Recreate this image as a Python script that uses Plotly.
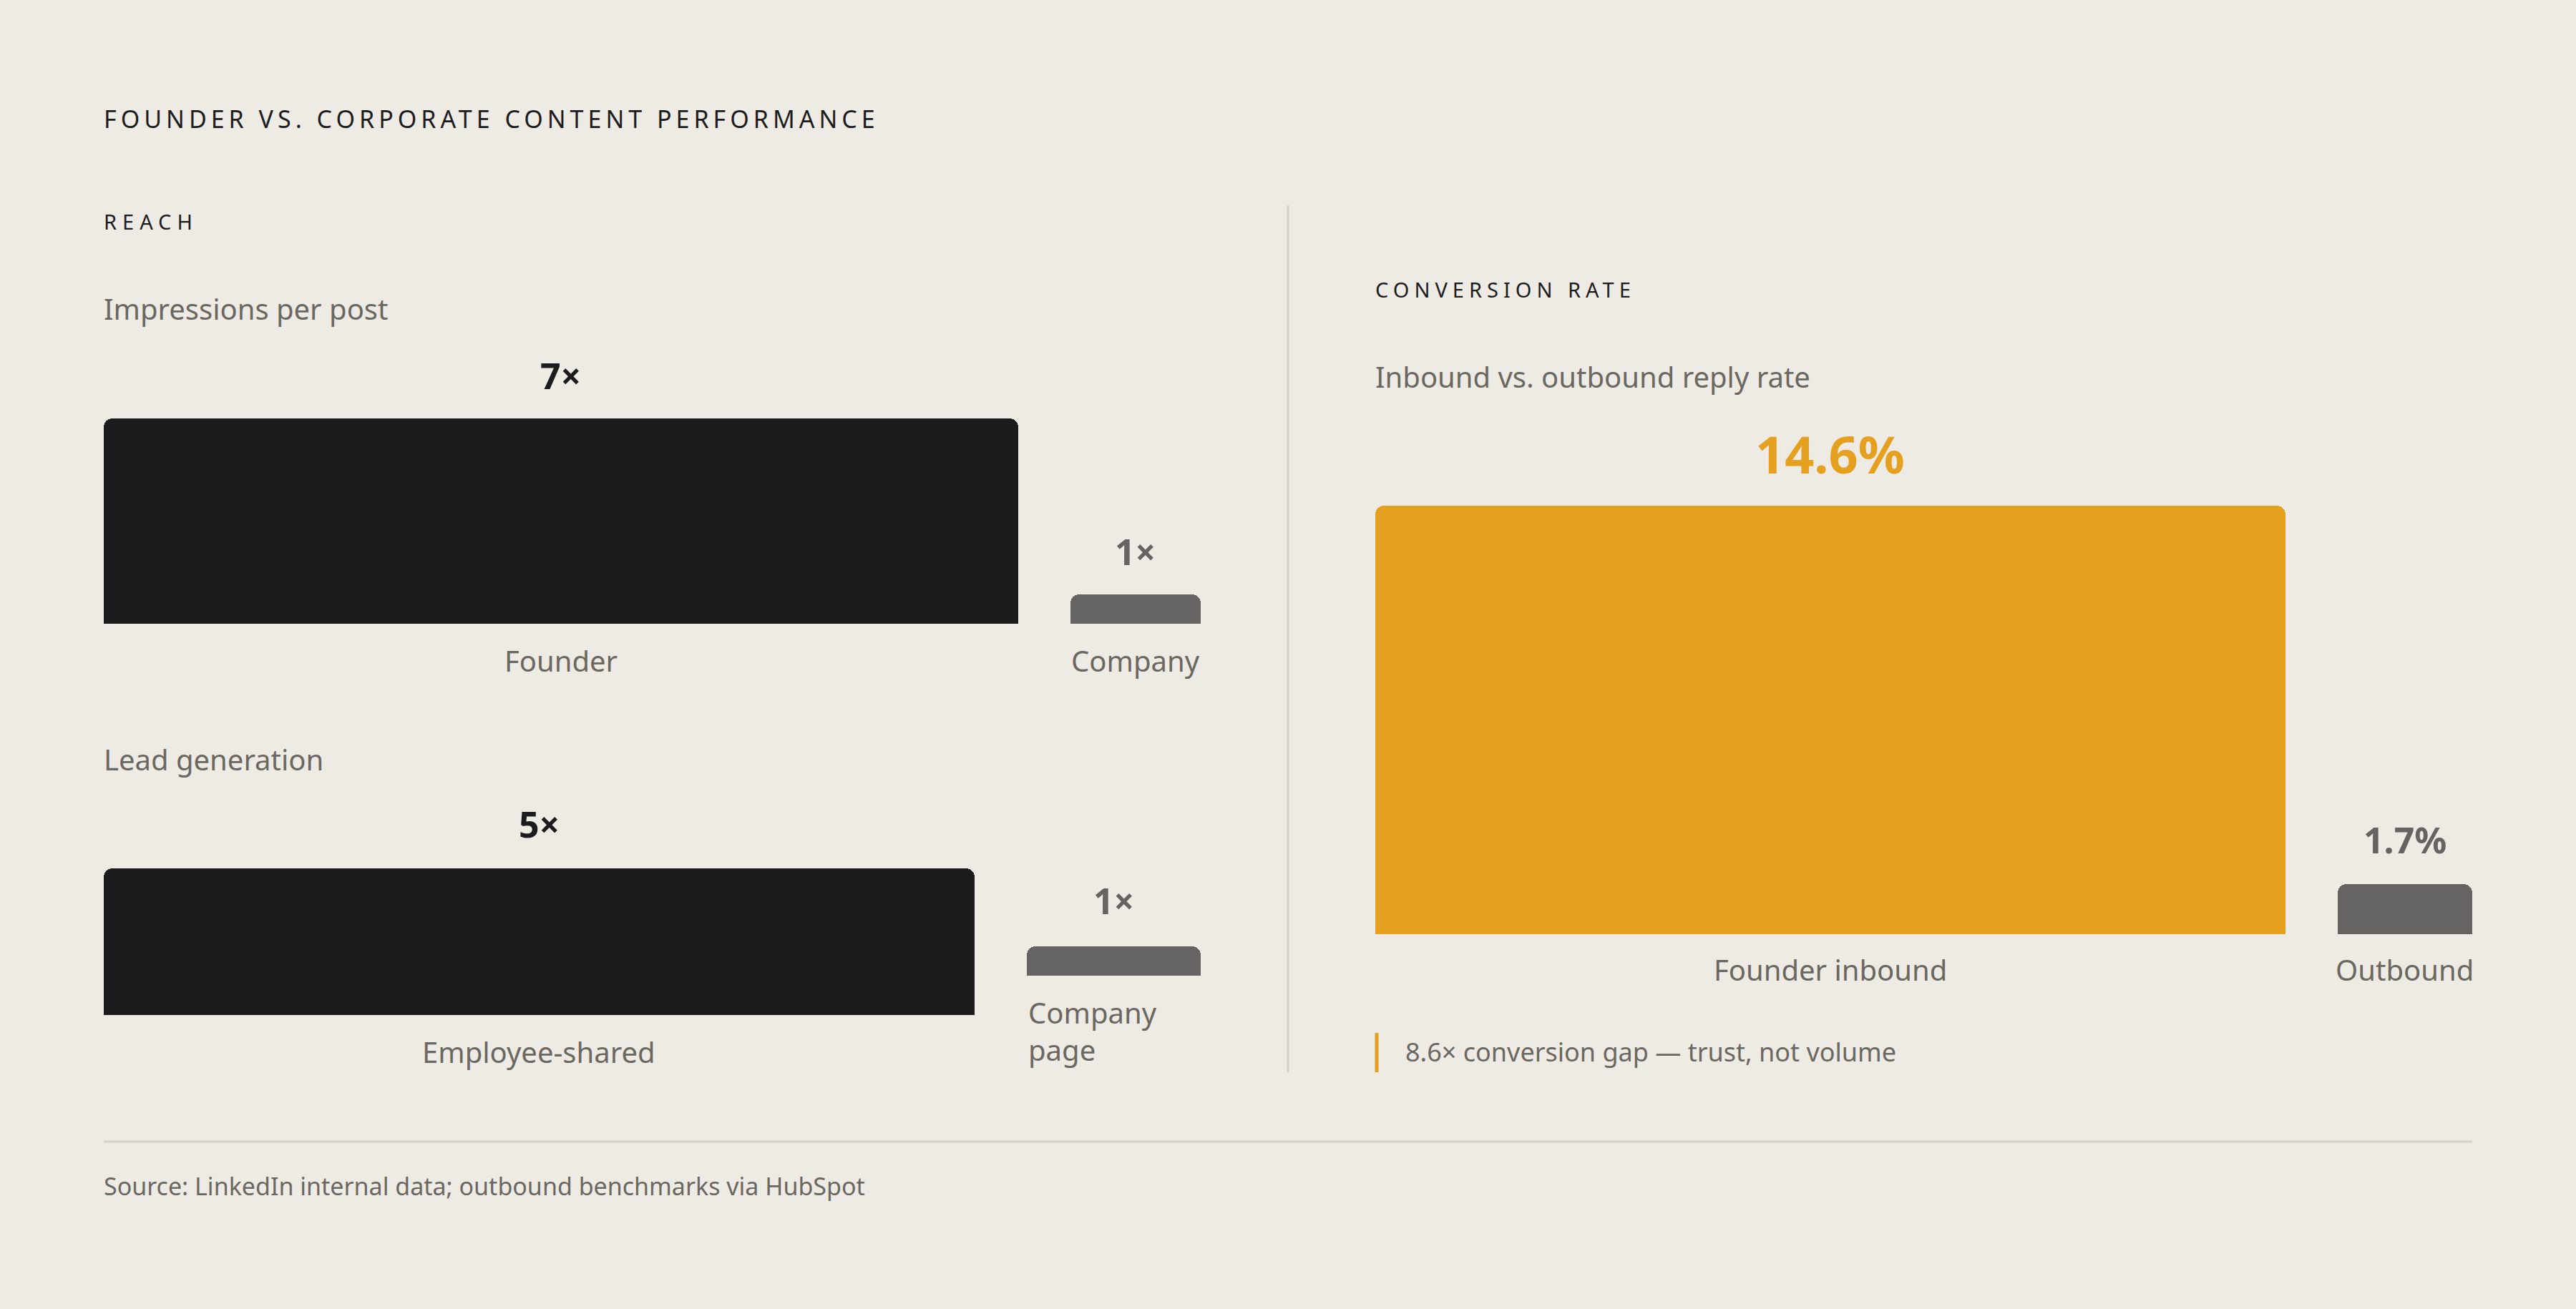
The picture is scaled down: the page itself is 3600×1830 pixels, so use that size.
import json
import plotly.graph_objects as go

# ---------------- data ----------------
reach_labels = ["Founder", "Company"]
reach_values = [7, 1]
reach_text = ["7×", "1×"]

lead_labels = ["Employee-shared", "Company<br>page"]
lead_values = [5, 1]
lead_text = ["5×", "1×"]

conv_labels = ["Founder inbound", "Outbound"]
conv_values = [14.6, 1.7]
conv_text = ["14.6%", "1.7%"]

title = "FOUNDER VS. CORPORATE CONTENT PERFORMANCE"
reach_head = "REACH"
reach_sub1 = "Impressions per post"
reach_sub2 = "Lead generation"
conv_head = "CONVERSION RATE"
conv_sub = "Inbound vs. outbound reply rate"
note = "8.6× conversion gap — trust, not volume"
source = "Source: LinkedIn internal data; outbound benchmarks via HubSpot"

# ---------------- style ----------------
W, H = 3600, 1830
BG = "#EEEBE4"
DARK = "#1C1C1E"
GREY = "#656462"
ORANGE = "#E6A020"
TXT = "#6B6761"
RULE = "#D5D1C9"
FONT = "Noto Sans"
PX_PER_UNIT = 41.0
GAP_PX = 73
LEFT_X0, LEFT_X1 = 145, 1678
RIGHT_X0, RIGHT_X1 = 1922, 3455
CONV_SHARE = [0.871, 0.129]
TRACKING = {title: "6px", reach_head: "8px", conv_head: "7px"}


def px_x(px):
    return px / W


def px_y(py):
    return 1 - py / H


def ydom(base_px, height_px):
    return [(H - base_px) / H, (H - base_px + height_px) / H], [0, height_px / PX_PER_UNIT]


def layout_widths(values, x0, x1):
    total = sum(values)
    gap_units = GAP_PX * total / ((x1 - x0) - GAP_PX * (len(values) - 1))
    centers, pos = [], 0.0
    for v in values:
        centers.append(pos + v / 2)
        pos += v + gap_units
    return centers, list(values), [0, pos - gap_units]


fig = go.Figure()
ann = []

# ---- Row 1: reach ----
c1, w1, r1 = layout_widths(reach_values, LEFT_X0, LEFT_X1)
fig.add_trace(go.Bar(x=c1, y=reach_values, width=w1, xaxis="x", yaxis="y",
                     marker=dict(color=[DARK, GREY], cornerradius=12, line=dict(width=0)),
                     hoverinfo="skip", showlegend=False))
for c, v, t, col, lab in zip(c1, reach_values, reach_text, [DARK, GREY], reach_labels):
    ann.append(dict(x=c, y=v, xref="x", yref="y", text=t, showarrow=False, yanchor="middle",
                    yshift=60, font=dict(size=50, color=col, family=FONT, weight=700)))
    ann.append(dict(x=c, y=0, xref="x", yref="y", text=lab, showarrow=False, yanchor="middle",
                    yshift=-51, font=dict(size=40, color=TXT, family=FONT)))

# ---- Row 2: lead generation ----
c2, w2, r2 = layout_widths(lead_values, LEFT_X0, LEFT_X1)
fig.add_trace(go.Bar(x=[c2[0]], y=[lead_values[0]], width=[w2[0]], xaxis="x2", yaxis="y2",
                     marker=dict(color=DARK, cornerradius=12, line=dict(width=0)),
                     hoverinfo="skip", showlegend=False))
fig.add_trace(go.Bar(x=[c2[1]], y=[lead_values[1]], width=[w2[1]], xaxis="x2", yaxis="y3",
                     marker=dict(color=GREY, cornerradius=12, line=dict(width=0)),
                     hoverinfo="skip", showlegend=False))
ann.append(dict(x=c2[0], y=lead_values[0], xref="x2", yref="y2", text=lead_text[0], showarrow=False,
                yanchor="middle", yshift=62, font=dict(size=50, color=DARK, family=FONT, weight=700)))
ann.append(dict(x=c2[0], y=0, xref="x2", yref="y2", text=lead_labels[0], showarrow=False,
                yanchor="middle", yshift=-51, font=dict(size=40, color=TXT, family=FONT)))
ann.append(dict(x=c2[1], y=lead_values[1], xref="x2", yref="y3", text=lead_text[1], showarrow=False,
                yanchor="middle", yshift=64, font=dict(size=50, color=GREY, family=FONT, weight=700)))
ann.append(dict(x=c2[1] - w2[1] / 2, y=0, xref="x2", yref="y3", text=lead_labels[1], showarrow=False,
                xanchor="left", yanchor="top", align="left", yshift=-22,
                font=dict(size=40, color=TXT, family=FONT)))

# ---- Right: conversion ----
rw = RIGHT_X1 - RIGHT_X0
cw = [s * (rw - GAP_PX) for s in CONV_SHARE]
cc = [cw[0] / 2, cw[0] + GAP_PX + cw[1] / 2]
fig.add_trace(go.Bar(x=cc, y=conv_values, width=cw, xaxis="x3", yaxis="y4",
                     marker=dict(color=[ORANGE, GREY], cornerradius=12, line=dict(width=0)),
                     hoverinfo="skip", showlegend=False))
for c, v, t, col, sz, ys, lab in zip(cc, conv_values, conv_text, [ORANGE, GREY], [72, 50], [73, 62], conv_labels):
    ann.append(dict(x=c, y=v, xref="x3", yref="y4", text=t, showarrow=False, yanchor="middle",
                    yshift=ys, font=dict(size=sz, color=col, family=FONT, weight=700)))
    ann.append(dict(x=c, y=0, xref="x3", yref="y4", text=lab, showarrow=False, yanchor="middle",
                    yshift=-49, font=dict(size=40, color=TXT, family=FONT)))

# ---- static texts ----
def txt(x, y, s, size, color, **kw):
    d = dict(x=px_x(x), y=px_y(y), xref="paper", yref="paper", text=s, showarrow=False,
             xanchor="left", yanchor="middle", font=dict(size=size, color=color, family=FONT))
    d.update(kw)
    ann.append(d)

txt(143, 166, title, 34, DARK)
txt(143, 310, reach_head, 29, DARK)
txt(143, 431, reach_sub1, 40, TXT)
txt(143, 1061, reach_sub2, 40, TXT)
txt(1920, 404, conv_head, 29, DARK)
txt(1920, 526, conv_sub, 40, TXT)
txt(1962, 1470, note, 36, TXT)
txt(143, 1658, source, 34, TXT)

shapes = [
    dict(type="line", xref="paper", yref="paper", x0=px_x(1800), x1=px_x(1800), y0=px_y(287), y1=px_y(1499),
         line=dict(color=RULE, width=3)),
    dict(type="line", xref="paper", yref="paper", x0=px_x(145), x1=px_x(3455), y0=px_y(1596), y1=px_y(1596),
         line=dict(color=RULE, width=3)),
    dict(type="line", xref="paper", yref="paper", x0=px_x(1924), x1=px_x(1924), y0=px_y(1444), y1=px_y(1499),
         line=dict(color=ORANGE, width=5)),
]

d1, yr1 = ydom(872, 400)
d2, yr2 = ydom(1419, 300)
d3, yr3 = ydom(1364, 300)
d4, yr4 = ydom(1306, 700)

ax = dict(visible=False, fixedrange=True, showgrid=False, zeroline=False)
fig.update_layout(
    width=W, height=H, margin=dict(l=0, r=0, t=0, b=0),
    paper_bgcolor=BG, plot_bgcolor="rgba(0,0,0,0)",
    bargap=0, barmode="overlay",
    xaxis=dict(ax, domain=[px_x(LEFT_X0), px_x(LEFT_X1)], range=r1),
    yaxis=dict(ax, domain=d1, range=yr1),
    xaxis2=dict(ax, domain=[px_x(LEFT_X0), px_x(LEFT_X1)], range=r2),
    yaxis2=dict(ax, domain=d2, range=yr2),
    yaxis3=dict(ax, domain=d3, range=yr3, anchor="x2"),
    xaxis3=dict(ax, domain=[px_x(RIGHT_X0), px_x(RIGHT_X1)], range=[0, rw]),
    yaxis4=dict(ax, domain=d4, range=yr4, anchor="x3"),
    annotations=ann, shapes=shapes,
    font=dict(family=FONT),
)

post_script = """
document.documentElement.style.margin='0';
document.body.style.margin='0';
document.body.style.background='%s';
var gd=document.getElementById('{plot_id}');
var TRACK=%s;
function applyTracking(){
  gd.querySelectorAll('text.annotation-text').forEach(function(t){
    var s=t.textContent;
    if(TRACK.hasOwnProperty(s) && !t.getAttribute('data-tracked')){
      var bb=t.getBBox();
      t.style.letterSpacing=TRACK[s];
      t.setAttribute('text-anchor','start');
      t.setAttribute('x', bb.x);
      t.setAttribute('data-tracked','1');
    }
  });
}
applyTracking();
if(gd.on){gd.on('plotly_afterplot', applyTracking);}
""" % (BG, json.dumps(TRACKING))

fig.write_html("out.html", post_script=post_script, config={"displayModeBar": False})
